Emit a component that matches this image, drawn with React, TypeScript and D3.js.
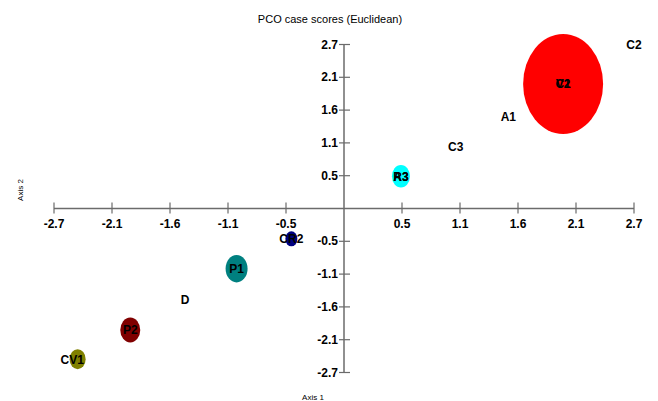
import React from "react";
import * as d3 from "d3";

const xTickValues = [-2.7, -2.16, -1.62, -1.08, -0.54, 0.54, 1.08, 1.62, 2.16, 2.7];
const xTickLabels = ["-2.7", "-2.1", "-1.6", "-1.1", "-0.5", "0.5", "1.1", "1.6", "2.1", "2.7"];
const yTickValues = [2.7, 2.16, 1.62, 1.08, 0.54, -0.54, -1.08, -1.62, -2.16, -2.7];
const yTickLabels = ["2.7", "2.1", "1.6", "1.1", "0.5", "-0.5", "-1.1", "-1.6", "-2.1", "-2.7"];

// bubbles (groups) with weights
const bubbleX = [2.04, 0.53, -0.49, -1.0, -1.99, -2.48];
const bubbleY = [2.05, 0.53, -0.5, -0.99, -2.0, -2.48];
const bubbleWeight = [1600, 81, 36, 121, 100, 64];
const bubbleColor = ["#ff0000", "#00ffff", "#000080", "#008080", "#800000", "#808000"];

// case labels
const caseNames = ["C2", "C1", "V2", "A1", "C3", "A3", "R3", "CR2", "P1", "D", "P2", "CV1"];
const caseX = [2.7, 2.04, 2.04, 1.53, 1.04, 0.53, 0.53, -0.49, -1.0, -1.48, -1.99, -2.53];
const caseY = [2.7, 2.05, 2.05, 1.52, 1.02, 0.53, 0.53, -0.5, -0.99, -1.49, -2.0, -2.48];

export default function App() {
  const W = 658, H = 401;
  const x = d3.scaleLinear().domain([-2.7, 2.7]).range([54, 634]);
  const y = d3.scaleLinear().domain([2.7, -2.7]).range([44.5, 372.5]);
  const r = d3.scaleSqrt().domain([0, 1600]).range([0, 40]);
  const font = "'Liberation Sans', Arial, sans-serif";
  const axisColor = "#6b6b6b";
  const x0 = x(0), y0 = y(0);
  return (
    <svg width={W} height={H} style={{ position: "absolute", left: 0, top: 0 }} fontFamily={font}>
      <rect width={W} height={H} fill="#fff" />
      <text x={330} y={23} textAnchor="middle" fontSize={11} fill="#000">PCO case scores (Euclidean)</text>
      <text x={313} y={400} textAnchor="middle" fontSize={8} fill="#000">Axis 1</text>
      <text transform={`translate(23,190) rotate(-90)`} textAnchor="middle" fontSize={8} fill="#000">Axis 2</text>

      {/* axes */}
      <line x1={x(-2.7)} x2={x(2.7)} y1={y0} y2={y0} stroke={axisColor} strokeWidth={1.5} />
      <line x1={x0} x2={x0} y1={y(2.7)} y2={y(-2.7)} stroke={axisColor} strokeWidth={1.5} />
      {xTickValues.map((v, i) => (
        <g key={"xt" + i}>
          <line x1={x(v)} x2={x(v)} y1={y0 - 6} y2={y0 + 5} stroke={axisColor} strokeWidth={1.2} />
          <text x={x(v)} y={y0 + 19} textAnchor="middle" fontSize={12} fontWeight="bold" fill="#000">{xTickLabels[i]}</text>
        </g>
      ))}
      {yTickValues.map((v, i) => (
        <g key={"yt" + i}>
          <line x1={x0 - 5} x2={x0 + 6} y1={y(v)} y2={y(v)} stroke={axisColor} strokeWidth={1.2} />
          <text x={x0 - 6} y={y(v) + 4} textAnchor="end" fontSize={12} fontWeight="bold" fill="#000">{yTickLabels[i]}</text>
        </g>
      ))}

      {bubbleX.map((v, i) => (
        <ellipse key={"b" + i} cx={x(v)} cy={y(bubbleY[i])} rx={r(bubbleWeight[i])} ry={r(bubbleWeight[i]) * 1.25} fill={bubbleColor[i]} />
      ))}
      {caseNames.map((n, i) => (
        <text key={"c" + i} x={x(caseX[i])} y={y(caseY[i]) + 4.5} textAnchor="middle" fontSize={12} fontWeight="bold" fill="#000">{n}</text>
      ))}
    </svg>
  );
}
